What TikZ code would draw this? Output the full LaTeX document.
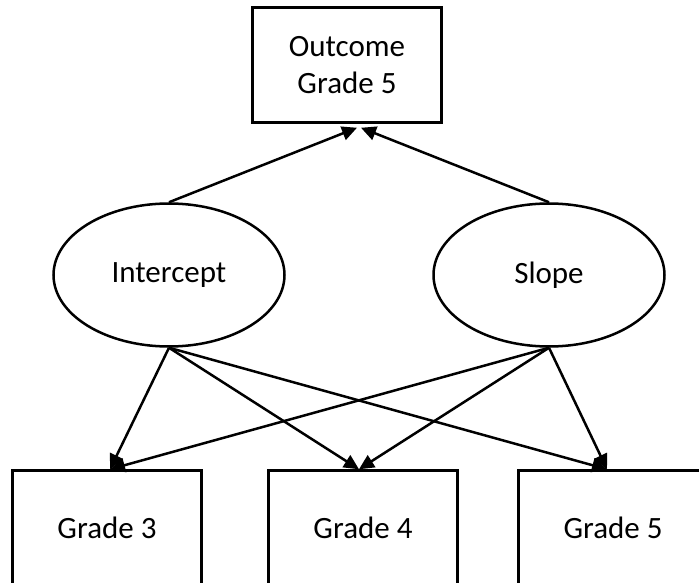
\documentclass[tikz,border=0pt]{standalone}
\usepackage{fontspec}
\setmainfont{Carlito}
\usetikzlibrary{shapes.geometric,arrows.meta}

\begin{document}
\begin{tikzpicture}[x=1pt,y=1pt,
    every node/.style={font=\fontsize{31}{37}\selectfont, align=center},
    obsbox/.style={draw, line width=2.5pt, minimum width=189pt, minimum height=115pt, inner sep=0pt},
    latent/.style={draw, ellipse, line width=2.5pt, minimum width=231pt, minimum height=143pt, inner sep=0pt},
    arr/.style={line width=2.5pt, -{Triangle[length=15pt,width=14pt]}}]
    \clip (0,0) rectangle (699,582);
    \node[obsbox] (outc) at (347,517) {Outcome\\Grade 5};
    \node[latent] (icpt) at (169,307) {Intercept};
    \node[latent] (slope) at (549,307) {Slope};
    \node[obsbox] (g3) at (107,54) {Grade 3};
    \node[obsbox] (g4) at (363,54) {Grade 4};
    \node[obsbox] (g5) at (613,54) {Grade 5};
    \draw[arr] (icpt.north) -- ([xshift=10pt,yshift=-4pt]outc.south);
    \draw[arr] (slope.north) -- ([xshift=14pt,yshift=-4pt]outc.south);
    \draw[arr] (icpt.south) -- ([xshift=3pt]g3.north);
    \draw[arr] (icpt.south) -- ([xshift=-4pt]g4.north);
    \draw[arr] (icpt.south) -- ([xshift=-6pt]g5.north);
    \draw[arr] (slope.south) -- ([xshift=3pt]g3.north);
    \draw[arr] (slope.south) -- ([xshift=-4pt]g4.north);
    \draw[arr] (slope.south) -- ([xshift=-6pt]g5.north);
\end{tikzpicture}
\end{document}
